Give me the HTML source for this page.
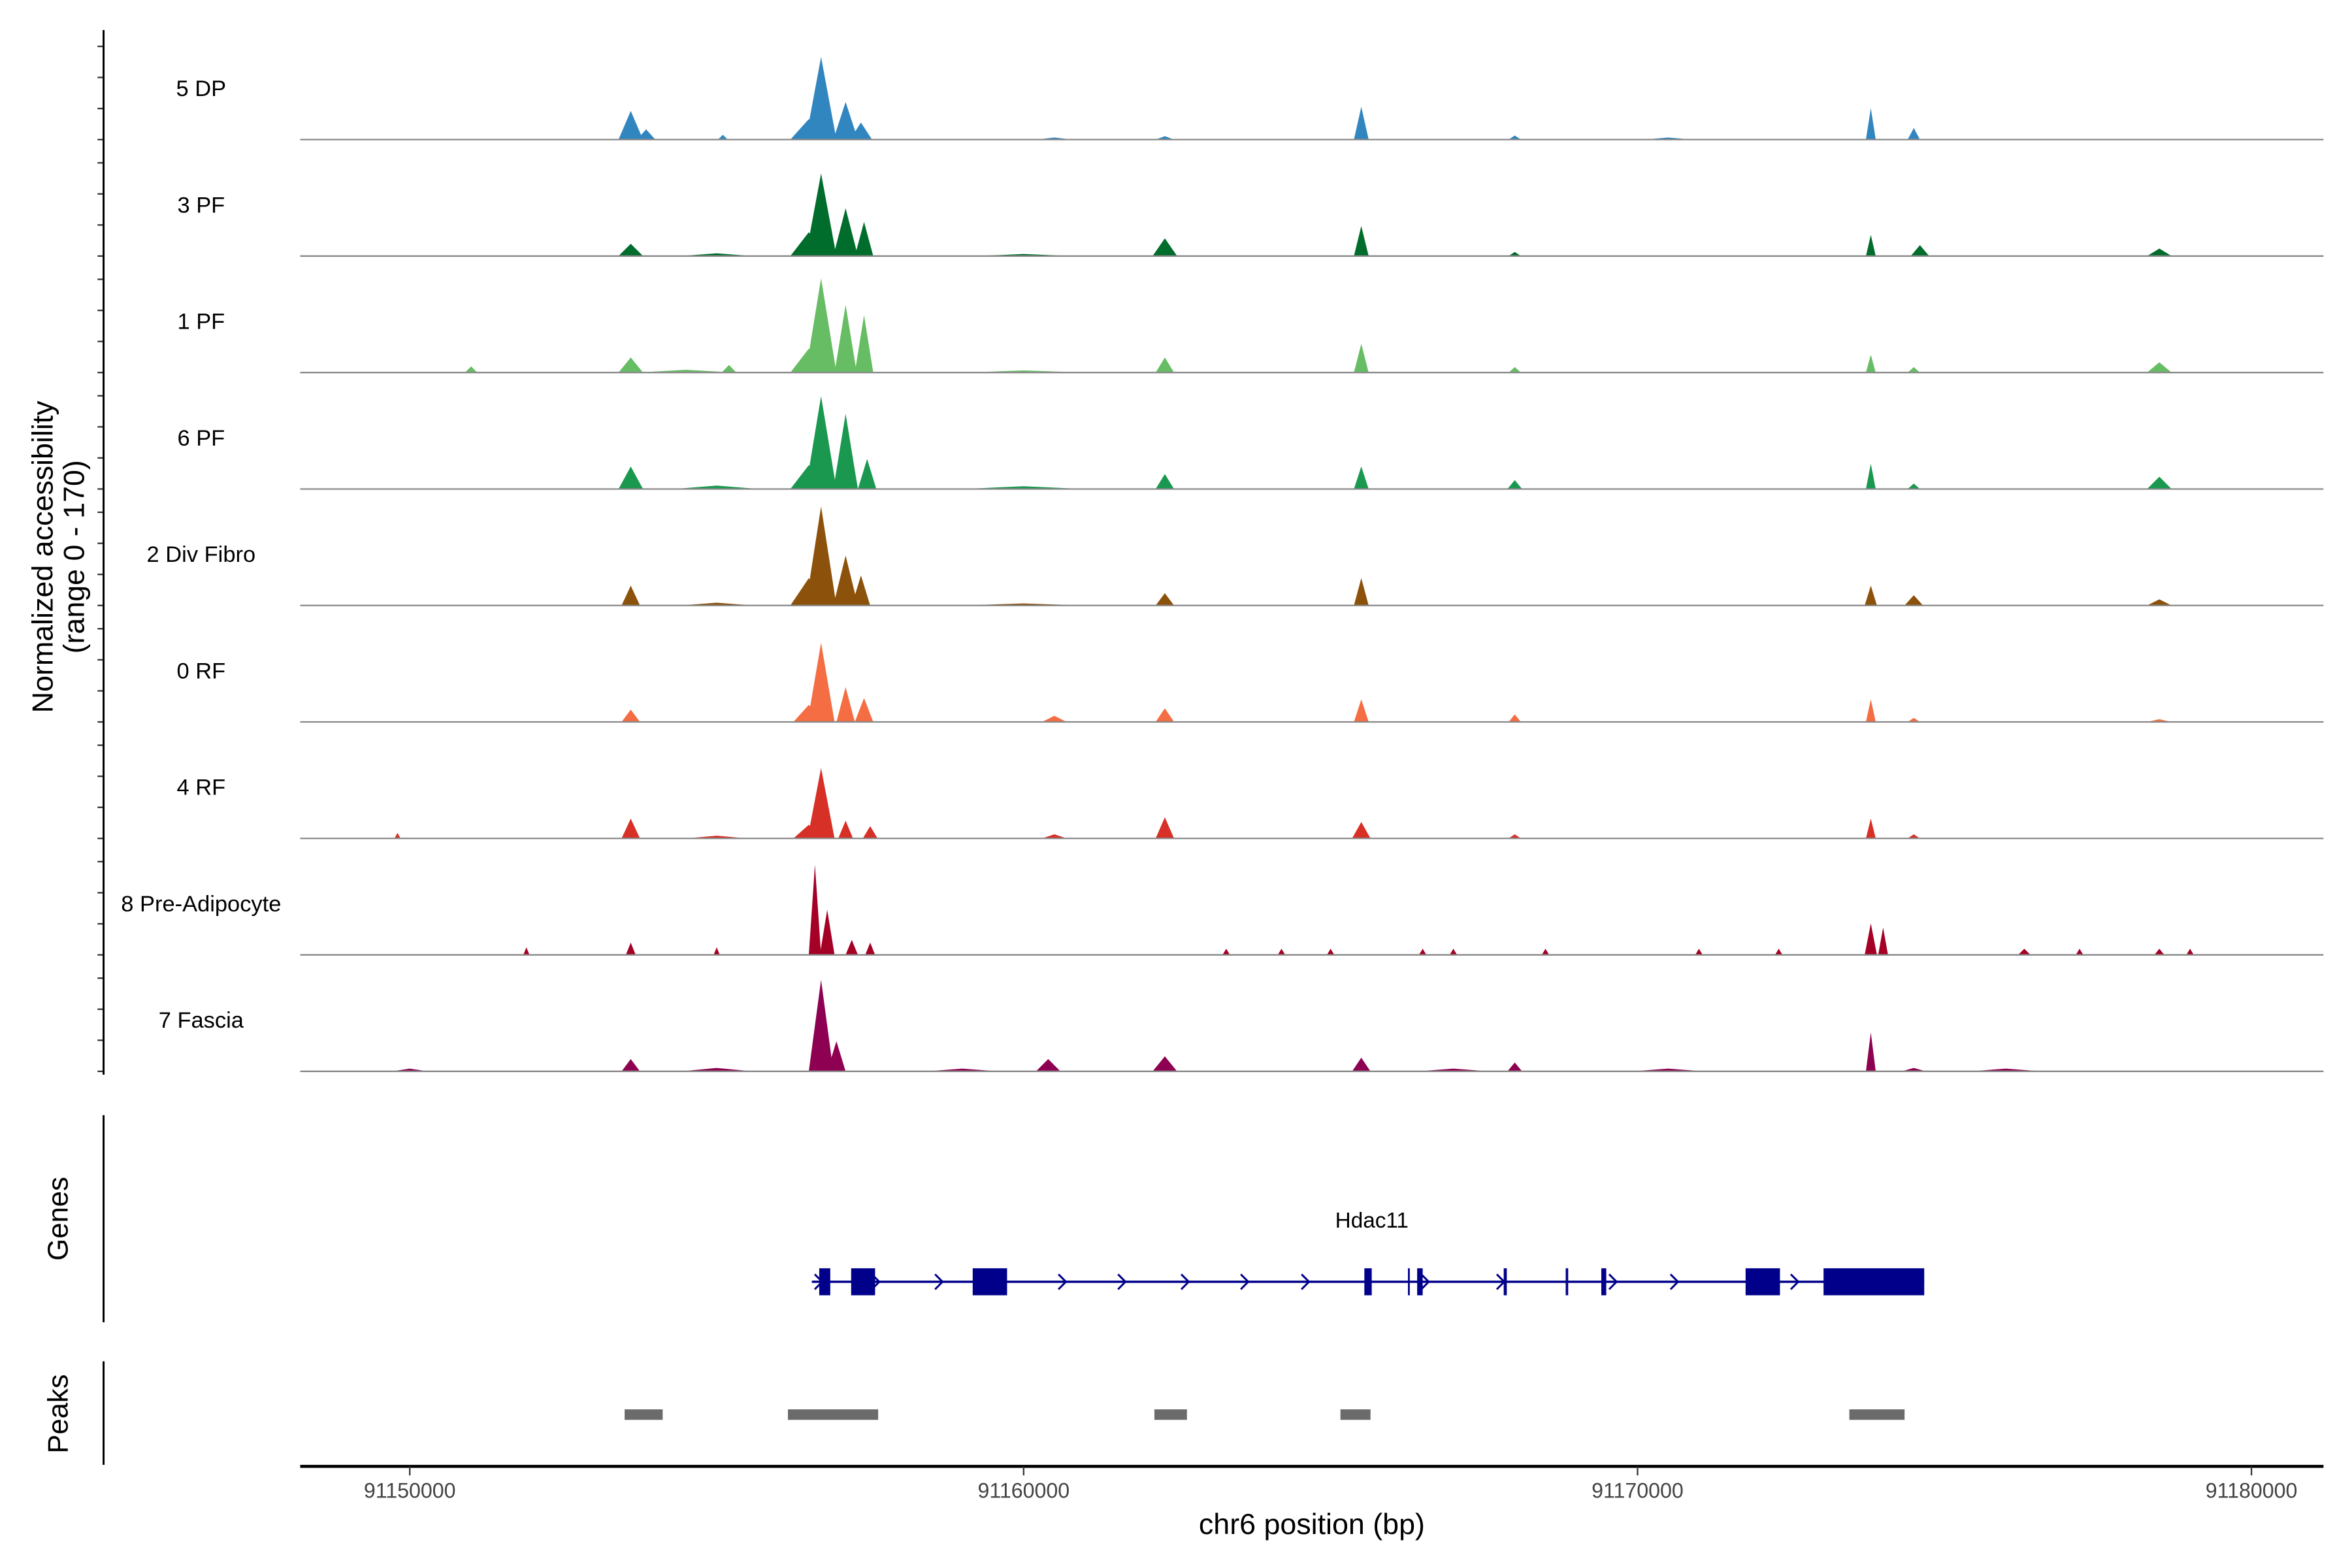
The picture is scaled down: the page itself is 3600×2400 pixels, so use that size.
<!DOCTYPE html>
<html><head><meta charset="utf-8"><style>
html,body{margin:0;padding:0;background:#fff}
svg{display:block}
text{font-family:"Liberation Sans",Arial,sans-serif}
</style></head><body>
<svg id="chart" width="3600" height="2400" viewBox="0 0 1567 1044.7" preserveAspectRatio="none" xmlns="http://www.w3.org/2000/svg">
<rect width="1567" height="1045" fill="#fff"/>
<g id="tracks"></g>
<g id="genes"></g>
<g id="peaks"></g>
<g id="axes"></g>
</svg>
<script>
// ---- data ----
const trackNames = ["5 DP","3 PF","1 PF","6 PF","2 Div Fibro","0 RF","4 RF","8 Pre-Adipocyte","7 Fascia"];
const trackColors = ["#3186c0","#006d2c","#66bd63","#1a9850","#8c510a","#f46d43","#d73027","#a50026","#8e0152"];
// peaks per track: [position kb, value (0-170), half width kb]
const peaks5DP = [[91153.6,42,0.2],[91153.85,15,0.15],[91155.1,7,0.08],[91156.5,30,0.3],[91156.7,121,0.25],[91157.1,55,0.2],[91157.35,25,0.18],[91162.3,5,0.15],[91165.5,48,0.12],[91168,6,0.1],[91173.8,46,0.08],[91174.5,17,0.1],[91160.5,3,0.3],[91170.5,3,0.4]];
const peaks3PF = [[91153.6,18,0.2],[91156.5,35,0.3],[91156.7,121,0.25],[91157.1,70,0.2],[91157.4,50,0.15],[91162.3,26,0.2],[91165.5,44,0.12],[91168,6,0.1],[91173.8,31,0.08],[91174.6,16,0.15],[91178.5,11,0.2],[91155,4,0.6],[91160,3,0.8]];
const peaks1PF = [[91151,9,0.1],[91153.6,22,0.2],[91155.2,11,0.12],[91156.5,35,0.3],[91156.7,138,0.25],[91157.1,99,0.18],[91157.4,84,0.15],[91162.3,22,0.15],[91165.5,42,0.12],[91168,8,0.1],[91173.8,26,0.08],[91174.5,8,0.1],[91178.5,15,0.2],[91154.5,4,0.8],[91160,3,1]];
const peaks6PF = [[91153.6,33,0.2],[91156.5,35,0.3],[91156.7,136,0.25],[91157.1,110,0.2],[91157.45,44,0.15],[91162.3,22,0.15],[91165.5,33,0.12],[91168,13,0.12],[91173.8,37,0.08],[91174.5,8,0.1],[91178.5,18,0.2],[91155,5,0.7],[91160,4,1]];
const peaks2Div = [[91153.6,29,0.15],[91156.5,40,0.3],[91156.7,145,0.25],[91157.1,73,0.2],[91157.35,44,0.15],[91162.3,18,0.15],[91165.5,40,0.12],[91173.8,29,0.1],[91174.5,15,0.15],[91178.5,9,0.2],[91155,4,0.6],[91160,3,1]];
const peaks0RF = [[91153.6,18,0.15],[91156.5,25,0.25],[91156.7,116,0.22],[91157.1,51,0.15],[91157.4,35,0.15],[91160.5,9,0.2],[91162.3,20,0.15],[91165.5,33,0.12],[91168,11,0.1],[91173.8,33,0.08],[91174.5,6,0.1],[91178.5,4,0.2]];
const peaks4RF = [[91149.8,8,0.05],[91153.6,29,0.15],[91156.5,20,0.25],[91156.7,103,0.22],[91157.1,26,0.12],[91157.5,18,0.12],[91160.5,6,0.2],[91162.3,31,0.15],[91165.5,24,0.15],[91168,6,0.1],[91173.8,29,0.08],[91174.5,6,0.1],[91155,4,0.5]];
const peaksPre = [[91151.9,11,0.05],[91153.6,18,0.08],[91155.0,11,0.05],[91156.6,132,0.1],[91156.8,66,0.12],[91157.2,22,0.1],[91157.5,18,0.08],[91163.3,9,0.06],[91164.2,9,0.06],[91165.0,9,0.06],[91166.5,9,0.06],[91167.0,9,0.06],[91168.5,9,0.06],[91171.0,9,0.06],[91172.3,9,0.06],[91173.8,46,0.1],[91174.0,40,0.08],[91176.3,9,0.1],[91177.2,9,0.06],[91178.5,9,0.08],[91179.0,9,0.06]];
const peaksFascia = [[91153.6,18,0.15],[91156.7,134,0.2],[91156.95,44,0.15],[91160.4,18,0.2],[91162.3,22,0.2],[91165.5,20,0.15],[91168,13,0.12],[91173.8,57,0.08],[91174.5,5,0.2],[91150,4,0.3],[91155,5,0.6],[91159,4,0.6],[91167,4,0.6],[91170.5,4,0.6],[91176,4,0.6]];
const trackPeaks = [peaks5DP,peaks3PF,peaks1PF,peaks6PF,peaks2Div,peaks0RF,peaks4RF,peaksPre,peaksFascia];
const xTicks = [91150000,91160000,91170000,91180000];
const xTickLabels = ["91150000","91160000","91170000","91180000"];
const geneExons = [[91156.67,91156.85],[91157.19,91157.58],[91159.17,91159.73],[91165.55,91165.67],[91166.26,91166.29],[91166.41,91166.5],[91167.82,91167.87],[91168.83,91168.87],[91169.41,91169.49],[91171.76,91172.32],[91173.03,91174.67]];
const geneSpan = [91156.55,91174.67];
const geneArrows = [91156.67,91157.6,91158.63,91160.64,91161.61,91162.64,91163.61,91164.6,91166.55,91167.78,91169.61,91170.61,91172.57];
const peakRegions = [[91153.5,91154.12],[91156.16,91157.63],[91162.13,91162.66],[91165.16,91165.65],[91173.45,91174.35]];

// ---- scales ----
const NS="http://www.w3.org/2000/svg";
const xScale = kb => 273 + (kb-91150)*40.9;
const baselines = [93,170.6,248.2,325.8,403.4,481,558.6,636.2,713.8];
const yScale = v => v*77.4/170;
function mk(tag, attrs, parent){const e=document.createElementNS(NS,tag);for(const k in attrs)e.setAttribute(k,attrs[k]);parent.appendChild(e);return e;}

const gT=document.getElementById('tracks');
trackNames.forEach((name,i)=>{
  const b=baselines[i];
  const g=mk('g',{},gT);
  
  
  trackPeaks[i].forEach(p=>{
    const x0=xScale(p[0]-p[2]),x1=xScale(p[0]),x2=xScale(p[0]+p[2]);
    const poly=mk('polygon',{points:`${x0},${b} ${x1},${b-yScale(p[1])} ${x2},${b}`,fill:trackColors[i]},g);
    
    
  });
  const ln=mk('line',{x1:200,x2:1548,y1:b,y2:b,stroke:'#888',"stroke-width":1},g);
  
  
  const t=mk('text',{x:134,y:b-29,"font-size":15,"text-anchor":"middle",fill:'#000'},g);
  t.textContent=name;
  
  
  for(let k=0;k<4;k++){mk('line',{x1:65,x2:69,y1:b-k*20.7,y2:b-k*20.7,stroke:'#333',"stroke-width":1},g);}
});

// genes
const gG=document.getElementById('genes');
const gl=mk('line',{x1:xScale(geneSpan[0]),x2:xScale(geneSpan[1]),y1:854,y2:854,stroke:'#00008b',"stroke-width":1.5},gG);


geneExons.forEach(e=>{
  const r=mk('rect',{x:xScale(e[0]),y:845,width:Math.max(1.2,xScale(e[1])-xScale(e[0])),height:18,fill:'#00008b'},gG);
  
  
});
geneArrows.forEach(a=>{
  const x=xScale(a);
  const p=mk('polyline',{points:`${x-3},849 ${x+2},854 ${x-3},859`,fill:'none',stroke:'#00008b',"stroke-width":1.3},gG);
  
  
});
const gn=mk('text',{x:914,y:818,"font-size":14.5,"text-anchor":"middle"},gG);
gn.textContent='Hdac11';



// peaks
const gP=document.getElementById('peaks');
peakRegions.forEach(p=>{
  const r=mk('rect',{x:xScale(p[0]),y:939,width:xScale(p[1])-xScale(p[0]),height:7,fill:'#6b6b6b'},gP);
  
  
});

// axes
const gA=document.getElementById('axes');
const axisLines=[[69,20,69,716,'y-axis-line'],[69,743,69,881,'genes-axis-line'],[69,907,69,976,'peaks-axis-line'],[200,977,1548,977,'x-axis-line']];
axisLines.forEach(a=>{
  const l=mk('line',{x1:a[0],y1:a[1],x2:a[2],y2:a[3],stroke:'#000',"stroke-width":a[4]=='x-axis-line'?2:1.3},gA);
  
  
});
xTicks.forEach((v,i)=>{
  const x=xScale(v/1000);
  mk('line',{x1:x,x2:x,y1:977,y2:983,stroke:'#333',"stroke-width":1},gA);
  const t=mk('text',{x:x,y:998,"font-size":14,"text-anchor":"middle",fill:'#444'},gA);
  t.textContent=xTickLabels[i];
  
  
});
function txt(s,x,y,fs,rot,name){
  const t=mk('text',{x:x,y:y,"font-size":fs,"text-anchor":"middle",transform:rot?`rotate(-90 ${x} ${y})`:''},gA);
  t.textContent=s;
  
  
}
txt('chr6 position (bp)',874,1022,19.5,false,'x-axis-title');
txt('Normalized accessibility',35,371,19.5,true,'y-axis-title');
txt('(range 0 - 170)',56,371,19.5,true,'y-axis-subtitle');
txt('Genes',45,812,19,true,'genes-axis-title');
txt('Peaks',45,942,19,true,'peaks-axis-title');
</script>
</body></html>
